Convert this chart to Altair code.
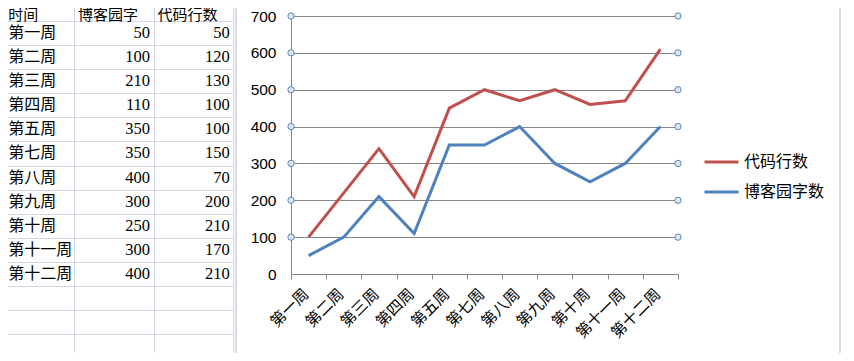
import altair as alt
import pandas as pd

# ---------------- data ----------------
weeks = ["第一周", "第二周", "第三周", "第四周", "第五周", "第七周",
         "第八周", "第九周", "第十周", "第十一周", "第十二周"]
blog_words = [50, 100, 210, 110, 350, 350, 400, 300, 250, 300, 400]
code_lines = [50, 120, 130, 100, 100, 150, 70, 200, 210, 170, 210]
headers = ["时间", "博客园字数", "代码行数"]
series_names = ["代码行数", "博客园字数"]
series_colors = ["#C0504D", "#4F81BD"]
y_ticks = [0, 100, 200, 300, 400, 500, 600, 700]

CJK = "Noto Sans CJK SC"
GRID = "#D0D7E5"
AX = "#868686"

long_rows = []
for i, w in enumerate(weeks):
    long_rows.append({"week": w, "idx": i, "series": "博客园字数", "ord": 0, "value": blog_words[i]})
    long_rows.append({"week": w, "idx": i, "series": "代码行数", "ord": 1, "value": code_lines[i]})
long_df = pd.DataFrame(long_rows)

table_df = pd.DataFrame({"row": list(range(1, len(weeks) + 1)), "week": weeks,
                         "blog": blog_words, "code": code_lines})
header_a = pd.DataFrame({"row": [0], "col": ["A"], "text": headers[:1]})
header_bc = pd.DataFrame({"row": [0, 0], "col": ["B", "C"], "text": headers[1:]})

# ---------------- spreadsheet part ----------------
tx = alt.Scale(type="band", domain=["A", "B", "C"], range=[-13.8, 225.3],
               paddingInner=0, paddingOuter=0)
ty = alt.Scale(type="band", domain=list(range(15)), range=[-11.1, 350.2],
               paddingInner=0, paddingOuter=0)

tx_axis = alt.Axis(orient="bottom", grid=True, tickBand="extent", labels=False,
                   ticks=False, domain=False, title=None, gridColor=GRID, gridWidth=1)
ty_axis = alt.Axis(orient="left", grid=True, tickBand="extent", labels=False,
                   ticks=False, domain=False, title=None, gridColor=GRID, gridWidth=1)

week_text = alt.Chart(table_df).transform_calculate(col="'A'").mark_text(
    align="left", baseline="middle", dx=14, font=CJK, fontSize=16, color="black"
).encode(
    x=alt.X("col:N", scale=tx, bandPosition=0, axis=tx_axis),
    y=alt.Y("row:O", scale=ty, axis=ty_axis),
    text="week:N",
)

blog_text = alt.Chart(table_df).transform_calculate(col="'B'").mark_text(
    align="right", baseline="middle", dx=-3.5, font="Liberation Serif", fontSize=16.5, color="black"
).encode(
    x=alt.X("col:N", scale=tx, bandPosition=1, axis=None),
    y=alt.Y("row:O", scale=ty, axis=None),
    text="blog:Q",
)

code_text = alt.Chart(table_df).transform_calculate(col="'C'").mark_text(
    align="right", baseline="middle", dx=-3.5, font="Liberation Serif", fontSize=16.5, color="black"
).encode(
    x=alt.X("col:N", scale=tx, bandPosition=1, axis=None),
    y=alt.Y("row:O", scale=ty, axis=None),
    text="code:Q",
)

head_a = alt.Chart(header_a).mark_text(
    align="left", baseline="middle", dx=14, dy=6.5, font=CJK, fontSize=15, color="black"
).encode(
    x=alt.X("col:N", scale=tx, bandPosition=0, axis=None),
    y=alt.Y("row:O", scale=ty, axis=None),
    text="text:N",
)

head_bc = alt.Chart(header_bc).mark_text(
    align="left", baseline="middle", dx=4, dy=6.5, font=CJK, fontSize=15, color="black",
    limit=70, ellipsis=" "
).encode(
    x=alt.X("col:N", scale=tx, bandPosition=0, axis=None),
    y=alt.Y("row:O", scale=ty, axis=None),
    text="text:N",
)

# ---------------- chart part ----------------
xs = alt.Scale(type="band", domain=weeks, range=[283, 670], paddingInner=0, paddingOuter=0)
ys = alt.Scale(domain=[0, 700], range=[266, 8], nice=False)

x_axis = alt.Axis(orient="bottom", offset=-79, title=None, domainColor=AX, domainWidth=1,
                  ticks=True, tickBand="extent", tickSize=5, tickColor=AX,
                  labelAngle=-45, labelAlign="right", labelBaseline="middle",
                  labelPadding=12, labelOffset=-3, labelFont=CJK, labelFontSize=15.5,
                  labelColor="black", labelOverlap=False, grid=False)
y_axis = alt.Axis(orient="left", offset=-283, title=None, values=y_ticks,
                  domainColor=AX, domainWidth=1, ticks=False, tickSize=0,
                  labelPadding=15, labelFont="Liberation Sans", labelFontSize=15.5,
                  labelColor="black", grid=True, gridColor=AX, gridWidth=1)

frame = alt.Chart(pd.DataFrame({"a": [0]})).mark_rect(
    fill="white", fillOpacity=0, stroke="#A9B9CB", strokeWidth=1, cornerRadius=6
).encode(x=alt.value(228), x2=alt.value(832), y=alt.value(-9), y2=alt.value(350))

lines = alt.Chart(long_df).transform_stack(
    stack="value", groupby=["week"], as_=["y0", "y1"],
    sort=[alt.SortField("ord", order="ascending")]
).mark_line(strokeWidth=3).encode(
    x=alt.X("week:N", scale=xs, axis=x_axis),
    y=alt.Y("y1:Q", scale=ys, axis=y_axis),
    color=alt.Color("series:N", scale=alt.Scale(domain=series_names, range=series_colors),
                    legend=alt.Legend(orient="none", legendX=695, legendY=140, title=None,
                                      symbolType="stroke", symbolSize=1156,
                                      symbolStrokeWidth=3, labelFont=CJK,
                                      labelFontSize=16, labelColor="black",
                                      labelOffset=4, clipHeight=28, rowPadding=2,
                                      padding=0)),
    order="idx:Q",
)

circ_left = alt.Chart(pd.DataFrame({"week": [weeks[0]] * 7, "v": y_ticks[1:]})).mark_circle(
    size=40, fill="#DCE6F2", stroke="#5B86BA", strokeWidth=1, opacity=1
).encode(
    x=alt.X("week:N", scale=xs, bandPosition=0, axis=None),
    y=alt.Y("v:Q", scale=ys, axis=None),
)
circ_right = alt.Chart(pd.DataFrame({"week": [weeks[-1]] * 7, "v": y_ticks[1:]})).mark_circle(
    size=40, fill="#DCE6F2", stroke="#5B86BA", strokeWidth=1, opacity=1
).encode(
    x=alt.X("week:N", scale=xs, bandPosition=1, axis=None),
    y=alt.Y("v:Q", scale=ys, axis=None),
)

chart = alt.layer(
    week_text, blog_text, code_text, head_a, head_bc,
    frame, lines, circ_left, circ_right
).resolve_scale(
    x="independent", y="independent"
).properties(
    width=838, height=345, autosize=alt.AutoSizeParams(type="none"), padding=0,
    background="white"
).configure_view(strokeWidth=0)

chart.save("out.html", embed_options={"renderer": "svg", "actions": False})
